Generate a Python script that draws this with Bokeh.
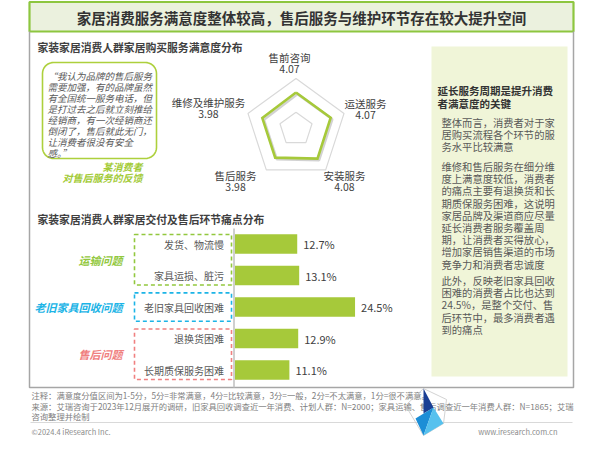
import numpy as np
from bokeh.plotting import figure
from bokeh.models import Range1d
from bokeh.core.properties import value
from bokeh.embed import file_html
from bokeh.resources import INLINE

FONT = "Noto Sans CJK SC"

# ---------------- data ----------------
title_text = "家居消费服务满意度整体较高，售后服务与维护环节存在较大提升空间"
sub1 = "家装家居消费人群家居购买服务满意度分布"
sub2 = "家装家居消费人群家居交付及售后环节痛点分布"

radar_dims = ["售前咨询", "运送服务", "安装服务", "售后服务", "维修及维护服务"]
radar_vals = [4.07, 4.07, 4.08, 3.98, 3.98]

pain_cats = ["发货、物流慢", "家具运损、脏污", "老旧家具回收困难", "退换货困难", "长期质保服务困难"]
pain_vals = [12.7, 13.1, 24.5, 12.9, 11.1]

group_names = ["运输问题", "老旧家具回收问题", "售后问题"]
group_members = [[0, 1], [2], [3, 4]]

quote_lines = ["“我认为品牌的售后服务", "需要加强，有的品牌虽然", "有全国统一服务电话，但",
               "是打过去之后就立刻推给", "经销商，有一次经销商还", "倒闭了，售后就此无门，",
               "让消费者很没有安全", "感。”"]
quote_src = ["某消费者", "对售后服务的反馈"]

side_head = ["延长服务周期是提升消费", "者满意度的关键"]
side_p1 = ["整体而言，消费者对于家", "居购买流程各个环节的服", "务水平比较满意"]
side_p2 = ["维修和售后服务在细分维", "度上满意度较低，消费者", "的痛点主要有退换货和长",
           "期质保服务困难，这说明", "家居品牌及渠道商应尽量", "延长消费者服务覆盖周",
           "期，让消费者买得放心，", "增加家居销售渠道的市场", "竞争力和消费者忠诚度"]
side_p3 = ["此外，反映老旧家具回收", "困难的消费者占比也达到", "24.5%，是整个交付、售",
           "后环节中，最多消费者遇", "到的痛点"]

foot_lines = ["注释：满意度分值区间为1-5分，5分=非常满意，4分=比较满意，3分=一般，2分=不太满意，1分=很不满意。",
              "来源：艾瑞咨询于2023年12月展开的调研，旧家具回收调查近一年消费、计划人群：N=2000；家具运输、售后调查近一年消费人群：N=1865；艾瑞",
              "咨询整理并绘制"]
copyright_text = "©2024.4 iResearch Inc."
site_text = "www.iresearch.com.cn"

# ---------------- styles ----------------
GREEN = "#A6C93A"
HEAD_BORDER = "#8DC63F"
HEAD_FILL = "#EBF1DE"
PANEL_BORDER = "#A6A6A6"
SIDE_FILL = "#F0F5D8"
DARK = "#333333"
GRAY = "#595959"
C_GREEN = "#92C83E"
C_BLUE = "#1CB4E6"
C_RED = "#F08080"

W, H = 600, 458
# canvas in page-pixel coordinates
p = figure(width=W, height=H, x_range=Range1d(0, W), y_range=Range1d(H, 0),
           output_backend="svg", toolbar_location=None, min_border=0,
           x_axis_location=None, y_axis_location=None)
p.grid.visible = False
p.outline_line_color = None
p.background_fill_color = "white"
p.border_fill_color = "white"


def txt(x, y, s, size, color, align="left", style="normal", baseline="middle", **kw):
    if not isinstance(s, list):
        x, y, s = [x], [y], [s]
    p.text(x=x, y=y, text=s, text_font=value(FONT), text_font_size=value(f"{size}px"),
           text_color=color, text_align=align, text_baseline=baseline,
           text_font_style=style, **kw)


# header
p.quad(left=[29], right=[573], top=[1.5], bottom=[31], fill_color=HEAD_FILL,
       line_color=HEAD_BORDER, line_width=2.2)
txt(301, 17, title_text, 14.5, DARK, align="center", style="bold")

# panel border
p.line(x=[29, 29, 573, 573], y=[31, 387, 387, 31], line_color=PANEL_BORDER, line_width=1.5)

# side box
p.quad(left=[431], right=[567], top=[46], bottom=[376], fill_color=SIDE_FILL, line_color=None)
txt([437] * 2, [90, 103], side_head, 10.5, DARK, style="bold")
txt([441] * 3, [122 + 12.2 * i for i in range(3)], side_p1, 10.3, GRAY)
txt([441] * 9, [166 + 12.2 * i for i in range(9)], side_p2, 10.3, GRAY)
txt([441] * 5, [280 + 12.2 * i for i in range(5)], side_p3, 10.3, GRAY)

# subtitles
txt(37, 46, sub1, 10.8, "#404040", style="bold")
txt(37, 218, sub2, 10.8, "#404040", style="bold")

# quote box (rounded)
def rounded(x0, x1, y0, y1, r):
    xs, ys = [], []
    for cx, cy, a0 in [(x1 - r, y0 + r, -90), (x1 - r, y1 - r, 0), (x0 + r, y1 - r, 90), (x0 + r, y0 + r, 180)]:
        t = np.radians(np.linspace(a0, a0 + 90, 10))
        xs += list(cx + r * np.cos(t))
        ys += list(cy + r * np.sin(t))
    return xs + [xs[0]], ys + [ys[0]]

qx, qy = rounded(42, 156, 62, 158, 11)
p.patch(qx, qy, fill_color=None, line_color="#ADD03C", line_width=1.6)
txt([47] * len(quote_lines), [75 + 11 * i for i in range(len(quote_lines))], quote_lines, 9.5, GRAY, style="italic")
txt([142] * 2, [166, 177], quote_src, 10, "#A3CB38", align="right", style="bold italic")

# ---------------- radar ----------------
cx, cy, R = 295.5, 128.5, 50.5
rmin, rmax = 1.0, 5.25
p.extra_x_ranges["rx"] = Range1d((0 - cx) / R, (W - cx) / R)
p.extra_y_ranges["ry"] = Range1d((cy - H) / R, (cy - 0) / R)
p.extra_x_ranges["rxs"] = Range1d((0 - cx - 1.6) / R, (W - cx - 1.6) / R)
p.extra_y_ranges["rys"] = Range1d((cy + 1.6 - H) / R, (cy + 1.6 - 0) / R)

n = len(radar_dims)
ang = np.radians(90 - 72 * np.arange(n))
for ring in [1 / 3, 1.0]:
    gx = list(ring * np.cos(ang)) + [ring * np.cos(ang[0])]
    gy = list(ring * np.sin(ang)) + [ring * np.sin(ang[0])]
    p.line(gx, gy, line_color="#D9D9D9", line_width=1.2, x_range_name="rx", y_range_name="ry")

rv = (np.array(radar_vals) - rmin) / (rmax - rmin)
vx = list(rv * np.cos(ang)) + [rv[0] * np.cos(ang[0])]
vy = list(rv * np.sin(ang)) + [rv[0] * np.sin(ang[0])]
p.line(vx, vy, line_color="#BFBFBF", line_alpha=0.7, line_width=2.5, x_range_name="rxs", y_range_name="rys")
p.line(vx, vy, line_color=GREEN, line_width=2.6, line_join="miter", x_range_name="rx", y_range_name="ry")

lab_dx = [-6.5, 21.5, 18.8, -30.8, -39.5]
lab_dy = [-21, -10, 5.6, 5.6, -10.9]
p.text(x=list(np.cos(ang)), y=list(np.sin(ang)), text=radar_dims, x_offset=lab_dx, y_offset=lab_dy,
       text_font=value(FONT), text_font_size=value("10.5px"), text_color="#404040",
       text_align="center", text_baseline="middle", x_range_name="rx", y_range_name="ry")
p.text(x=list(np.cos(ang)), y=list(np.sin(ang)), text=[f"{v:.2f}" for v in radar_vals],
       x_offset=lab_dx, y_offset=[d + 11.5 for d in lab_dy],
       text_font=value(FONT), text_font_size=value("10.5px"), text_color="#404040",
       text_align="center", text_baseline="middle", x_range_name="rx", y_range_name="ry")

# ---------------- bars ----------------
bx0, bscale = 234.5, 4.9
by0, bstep = 243.5, 31.5
p.extra_x_ranges["bx"] = Range1d((0 - bx0) / bscale, (W - bx0) / bscale)
p.extra_y_ranges["by"] = Range1d((H - by0) / bstep, (0 - by0) / bstep)
idx = list(range(len(pain_cats)))

p.segment(x0=[233.5], y0=[228], x1=[233.5], y1=[387], line_color="#BFBFBF", line_width=1.5)
p.hbar(y=idx, left=0, right=pain_vals, height=0.62, fill_color=GREEN, line_color=None,
       x_range_name="bx", y_range_name="by")
p.text(x=pain_vals, y=idx, text=[f"{v:.1f}%" for v in pain_vals], x_offset=6,
       text_font=value(FONT), text_font_size=value("11px"), text_color="#404040",
       text_align="left", text_baseline="middle", x_range_name="bx", y_range_name="by")
p.text(x=[0] * len(idx), y=idx, text=pain_cats, x_offset=-11,
       text_font=value(FONT), text_font_size=value("10px"), text_color=GRAY,
       text_align="right", text_baseline="middle", x_range_name="bx", y_range_name="by")

gcols = [C_GREEN, C_BLUE, C_RED]
for name, mem, col in zip(group_names, group_members, gcols):
    pad = 0.3 if len(mem) > 1 else 0.45
    p.quad(left=[134], right=[231], top=[mem[0] - pad], bottom=[mem[-1] + pad], fill_color=None,
           line_color=col, line_width=1.6, line_dash="4 3", y_range_name="by")
    p.text(x=[122], y=[sum(mem) / len(mem)], text=[name], text_font=value(FONT),
           text_font_size=value("11px"), text_color=col, text_align="right", text_baseline="middle",
           text_font_style="bold italic", y_range_name="by")

# ---------------- footer ----------------
txt([31] * 3, [394, 405, 415.5], foot_lines, 8.3, "#808080")
p.segment(x0=[30], y0=[422], x1=[572], y1=[422], line_color="#D9D9D9", line_width=1)
txt(31, 431, copyright_text, 7.5, "#8C8C8C")
txt(557, 431, site_text, 7.5, "#8C8C8C", align="right")

# logo watermark
p.line(x=[423, 446, 443, 423, 405, 423], y=[388, 399, 423, 435, 405, 388], line_color="#C8C8C8", line_width=0.8)
p.patch(x=[423, 433, 423], y=[388, 407, 413], fill_color="#1B3F94", line_color=None)
p.patch(x=[415, 433, 423], y=[418, 407, 435], fill_color="#1C8ED6", line_color=None)
p.patch(x=[433, 443, 423], y=[407, 423, 435], fill_color="#56C1EE", line_color=None)

open("out.html", "w").write(file_html(p, INLINE))
